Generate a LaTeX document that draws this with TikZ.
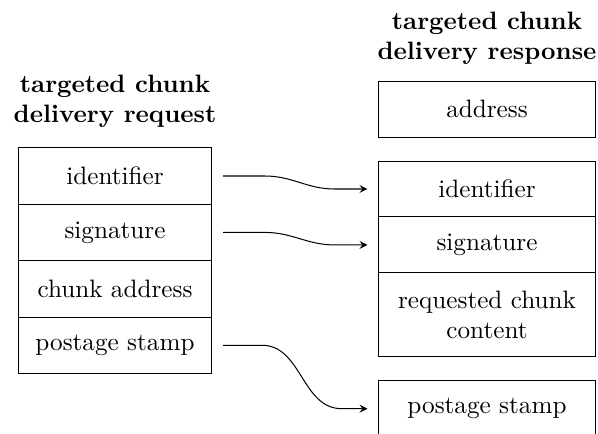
\documentclass[tikz,border=0pt]{standalone}
\usepackage{tikz}
\usetikzlibrary{positioning}
\tikzset{
  >=stealth,
  % --- nodes
  fld/.style    = {draw, align=center, outer sep=0pt, inner sep=2pt},
  reqfld/.style = {fld, minimum width=77pt, minimum height=22.4pt},
  resfld/.style = {fld, minimum width=86.1pt, minimum height=22.2pt},
  hdr/.style    = {font=\bfseries, align=center},
  % --- edges
  e/.style      = {-stealth, shorten <=4.4pt, shorten >=4.4pt},
}

\begin{document}
\begin{tikzpicture}[x=0.397pt, y=-0.397pt, node distance=0pt]
  \useasboundingbox (0,0) rectangle (598,433);

  % request
  \node[hdr] (reqhead) at (115,101) {targeted chunk\\delivery request};
  \node[reqfld] (reqid) at (115,176) {identifier};
  \node[reqfld, below=of reqid] (reqsig) {signature};
  \node[reqfld, below=of reqsig] (reqaddr) {chunk address};
  \node[reqfld, below=of reqaddr] (reqstamp) {postage stamp};

  % response
  \node[hdr] (reshead) at (487,38) {targeted chunk\\delivery response};
  \node[resfld] (resid) at (487,189) {identifier};
  \node[resfld, above=9.5pt of resid] (resaddr) {address};
  \node[resfld, below=of resid] (ressig) {signature};
  \node[resfld, below=of ressig, minimum height=33.3pt] (rescont) {requested chunk\\content};
  \node[resfld, below=9.5pt of rescont] (resstamp) {postage stamp};

  \draw[e] (reqid.east) -- ++(53,0) to[out=0,in=180] ([xshift=-17.5pt]resid.west) -- (resid.west);
  \draw[e] (reqsig.east) -- ++(53,0) to[out=0,in=180] ([xshift=-17.5pt]ressig.west) -- (ressig.west);
  \draw[e] (reqstamp.east) -- ++(50,0) to[out=0,in=180] ([xshift=-14.7pt]resstamp.west) -- (resstamp.west);
\end{tikzpicture}
\end{document}
